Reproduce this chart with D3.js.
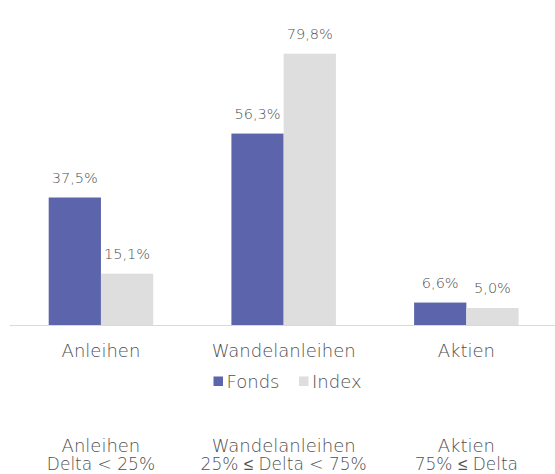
<!DOCTYPE html>
<html>
<head>
<meta charset="utf-8">
<script src="https://cdn.jsdelivr.net/npm/d3@7"></script>
<style>
  body { margin: 0; background: #fff; }
  text { font-family: "DejaVu Sans", sans-serif; font-weight: 200; fill: #505050; }
</style>
</head>
<body>
<script>
// data
let categories = ["Anleihen", "Wandelanleihen", "Aktien"];
let series = ["Fonds", "Index"];
let fonds = [37.5, 56.3, 6.6];
let index = [15.1, 79.8, 5.0];
let deltaLabels = ["Delta < 25%", "25% \u2264 Delta < 75%", "75% \u2264 Delta"];

let colors = { Fonds: "#5c65ab", Index: "#dedede" };

function drawChart() {
  var w = 555;
  var h = 474;
  var baseY = 325;

  var svg = d3.select("body")
    .append("svg")
    .attr("width", w)
    .attr("height", h);

  var x0 = d3.scaleBand()
    .domain(categories)
    .range([9.6, 557.7])
    .paddingInner(0.428)
    .paddingOuter(0.214);

  var x1 = d3.scaleBand()
    .domain(series)
    .range([0, x0.bandwidth()]);

  var y = d3.scaleLinear()
    .domain([0, 90])
    .range([baseY, 19]);

  // rows for the bars
  var rows = categories.map(function(c, i) {
    return { cat: c, values: [
      { key: "Fonds", value: fonds[i] },
      { key: "Index", value: index[i] }
    ] };
  });

  var groups = svg.selectAll("g.grp")
    .data(rows)
    .enter()
    .append("g")
    .attr("class", "grp")
    .attr("transform", function(d) { return "translate(" + x0(d.cat) + ",0)"; });

  groups.selectAll("rect")
    .data(function(d) { return d.values; })
    .enter()
    .append("rect")
    .attr("x", function(d) { return x1(d.key); })
    .attr("y", function(d) { return y(d.value); })
    .attr("width", x1.bandwidth())
    .attr("height", function(d) { return baseY - y(d.value); })
    .attr("fill", function(d) { return colors[d.key]; });

  // value labels
  groups.selectAll("text.val")
    .data(function(d) { return d.values; })
    .enter()
    .append("text")
    .attr("class", "val")
    .attr("x", function(d) { return x1(d.key) + x1.bandwidth() / 2; })
    .attr("y", function(d) { return y(d.value) - 15; })
    .attr("text-anchor", "middle")
    .attr("font-size", "14.5px")
    .text(function(d) { return d.value.toFixed(1).replace(".", ",") + "%"; });

  // baseline
  svg.append("line")
    .attr("x1", 9.6)
    .attr("x2", w)
    .attr("y1", baseY + 0.5)
    .attr("y2", baseY + 0.5)
    .attr("stroke", "#d9d9d9")
    .attr("stroke-width", 1);

  // category axis
  var xAxis = d3.axisBottom(x0).tickSize(0).tickPadding(0);
  var axisG = svg.append("g")
    .attr("transform", "translate(0," + (baseY + 32) + ")")
    .call(xAxis);
  axisG.select(".domain").remove();
  axisG.selectAll("text")
    .attr("dy", 0)
    .attr("y", 0)
    .attr("fill", "#505050")
    .style("font-family", "'DejaVu Sans', sans-serif")
    .style("font-weight", 200)
    .style("font-size", "18px");

  // legend
  var legendX = [213.5, 299];
  var legend = svg.selectAll("g.leg")
    .data(series)
    .enter()
    .append("g")
    .attr("class", "leg")
    .attr("transform", function(d, i) { return "translate(" + legendX[i] + ",376.5)"; });
  legend.append("rect")
    .attr("width", 9.5)
    .attr("height", 9.5)
    .attr("fill", function(d) { return colors[d]; });
  legend.append("text")
    .attr("x", 13)
    .attr("y", 11)
    .attr("font-size", "18px")
    .text(function(d) { return d; });

  // bottom explanation, two lines per category
  svg.selectAll("text.note1")
    .data(categories)
    .enter()
    .append("text")
    .attr("class", "note1")
    .attr("x", function(d) { return x0(d) + x0.bandwidth() / 2; })
    .attr("y", 451.5)
    .attr("text-anchor", "middle")
    .attr("font-size", "18px")
    .text(function(d) { return d; });

  svg.selectAll("text.note2")
    .data(deltaLabels)
    .enter()
    .append("text")
    .attr("class", "note2")
    .attr("x", function(d, i) { return x0(categories[i]) + x0.bandwidth() / 2; })
    .attr("y", 470)
    .attr("text-anchor", "middle")
    .attr("font-size", "17px")
    .text(function(d) { return d; });
}

window.onload = function() {
  drawChart();
};
</script>
</body>
</html>
